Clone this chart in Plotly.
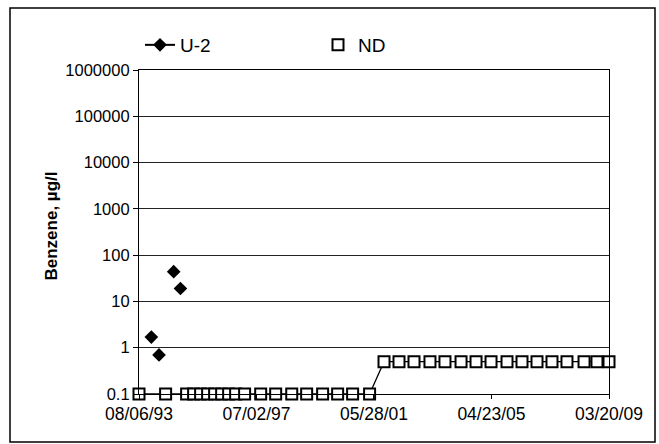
import plotly.graph_objects as go

# ---- data ----
u2_dates = ["1994-01-03", "1994-04-06", "1994-10-01", "1994-12-22"]
u2_values = [1.7, 0.7, 44, 19]

nd_dates = [
    "1993-08-06", "1994-06-25", "1995-03-07", "1995-05-31", "1995-08-24",
    "1995-11-17", "1996-02-10", "1996-05-05", "1996-07-29", "1996-10-22",
    "1997-02-08", "1997-08-22", "1998-02-20", "1998-09-03", "1999-03-03",
    "1999-09-13", "2000-03-13", "2000-09-11", "2001-04-05",
    "2001-09-27", "2002-03-28", "2002-09-26", "2003-04-08", "2003-10-07",
    "2004-04-19", "2004-10-18", "2005-04-18", "2005-10-29", "2006-04-29",
    "2006-10-28", "2007-04-28", "2007-10-27", "2008-05-21", "2008-10-25",
    "2009-03-20",
]
nd_values = [0.1] * 19 + [0.5] * 16

x_tick_dates = ["1993-08-06", "1997-07-02", "2001-05-28", "2005-04-23", "2009-03-20"]
x_tick_labels = ["08/06/93", "07/02/97", "05/28/01", "04/23/05", "03/20/09"]
y_tick_vals = [0.1, 1, 10, 100, 1000, 10000, 100000, 1000000]
y_tick_labels = ["0.1", "1", "10", "100", "1000", "10000", "100000", "1000000"]

# U-2 points are isolated (gaps between samples), so separate with None
u2_x, u2_y = [], []
for d, v in zip(u2_dates, u2_values):
    u2_x += [d, None]
    u2_y += [v, None]

FONT = "Liberation Sans, Arial, sans-serif"

fig = go.Figure()
fig.add_trace(go.Scatter(
    x=u2_x, y=u2_y, mode="lines+markers", name="U-2", connectgaps=False,
    line=dict(color="black", width=2),
    marker=dict(symbol="diamond", size=10.5, color="black"),
    cliponaxis=False, legend="legend",
))
fig.add_trace(go.Scatter(
    x=nd_dates, y=nd_values, mode="lines", showlegend=False,
    line=dict(color="black", width=1.3), cliponaxis=False,
))
fig.add_trace(go.Scatter(
    x=nd_dates, y=nd_values, mode="markers", name="ND",
    marker=dict(symbol="square", size=11, color="white",
                line=dict(color="black", width=2)),
    cliponaxis=False, legend="legend2",
))

L, R, T, B = 139, 50, 70, 50
W, H = 659, 444
pw, ph = W - L - R, H - T - B

def px_x(p):
    return (p - L) / pw

def px_y(p):
    return (H - B - p) / ph

fig.update_layout(
    width=W, height=H,
    margin=dict(l=L, r=R, t=T, b=B, autoexpand=False),
    paper_bgcolor="white", plot_bgcolor="white",
    font=dict(family=FONT, size=16, color="black"),
    legend=dict(orientation="h", x=px_x(140), y=px_y(45), xanchor="left", yanchor="middle",
                bgcolor="rgba(0,0,0,0)", font=dict(size=19)),
    legend2=dict(orientation="h", x=px_x(318), y=px_y(45), xanchor="left", yanchor="middle",
                 bgcolor="rgba(0,0,0,0)", font=dict(size=19)),
    xaxis=dict(
        type="date",
        range=["1993-08-06", "2009-03-20"],
        tickmode="array", tickvals=x_tick_dates, ticktext=x_tick_labels,
        ticks="outside", ticklen=4, tickcolor="black",
        showline=True, linecolor="black", linewidth=1.2, mirror=True,
        showgrid=False, zeroline=False,
        tickfont=dict(size=17.5),
    ),
    yaxis=dict(
        type="log", range=[-1, 6],
        tickmode="array", tickvals=y_tick_vals, ticktext=y_tick_labels,
        ticks="outside", ticklen=5, tickcolor="black",
        showline=True, linecolor="black", linewidth=1.2, mirror=True,
        showgrid=True, gridcolor="#222222", gridwidth=1,
        zeroline=False,
        tickfont=dict(size=16.5),
    ),
    annotations=[dict(
        text="<b>Benzene, µg/l</b>", textangle=-90,
        x=px_x(39), y=px_y(226), xref="paper", yref="paper",
        showarrow=False, font=dict(size=17, family=FONT, color="black"),
    )],
    shapes=[dict(
        type="rect", xref="paper", yref="paper",
        x0=px_x(10), x1=px_x(655), y0=px_y(442), y1=px_y(8),
        line=dict(color="black", width=1.5), fillcolor="rgba(0,0,0,0)",
    )],
)

fig.write_html("out.html", config={"displayModeBar": False},
               post_script="document.body.style.margin='0';")
